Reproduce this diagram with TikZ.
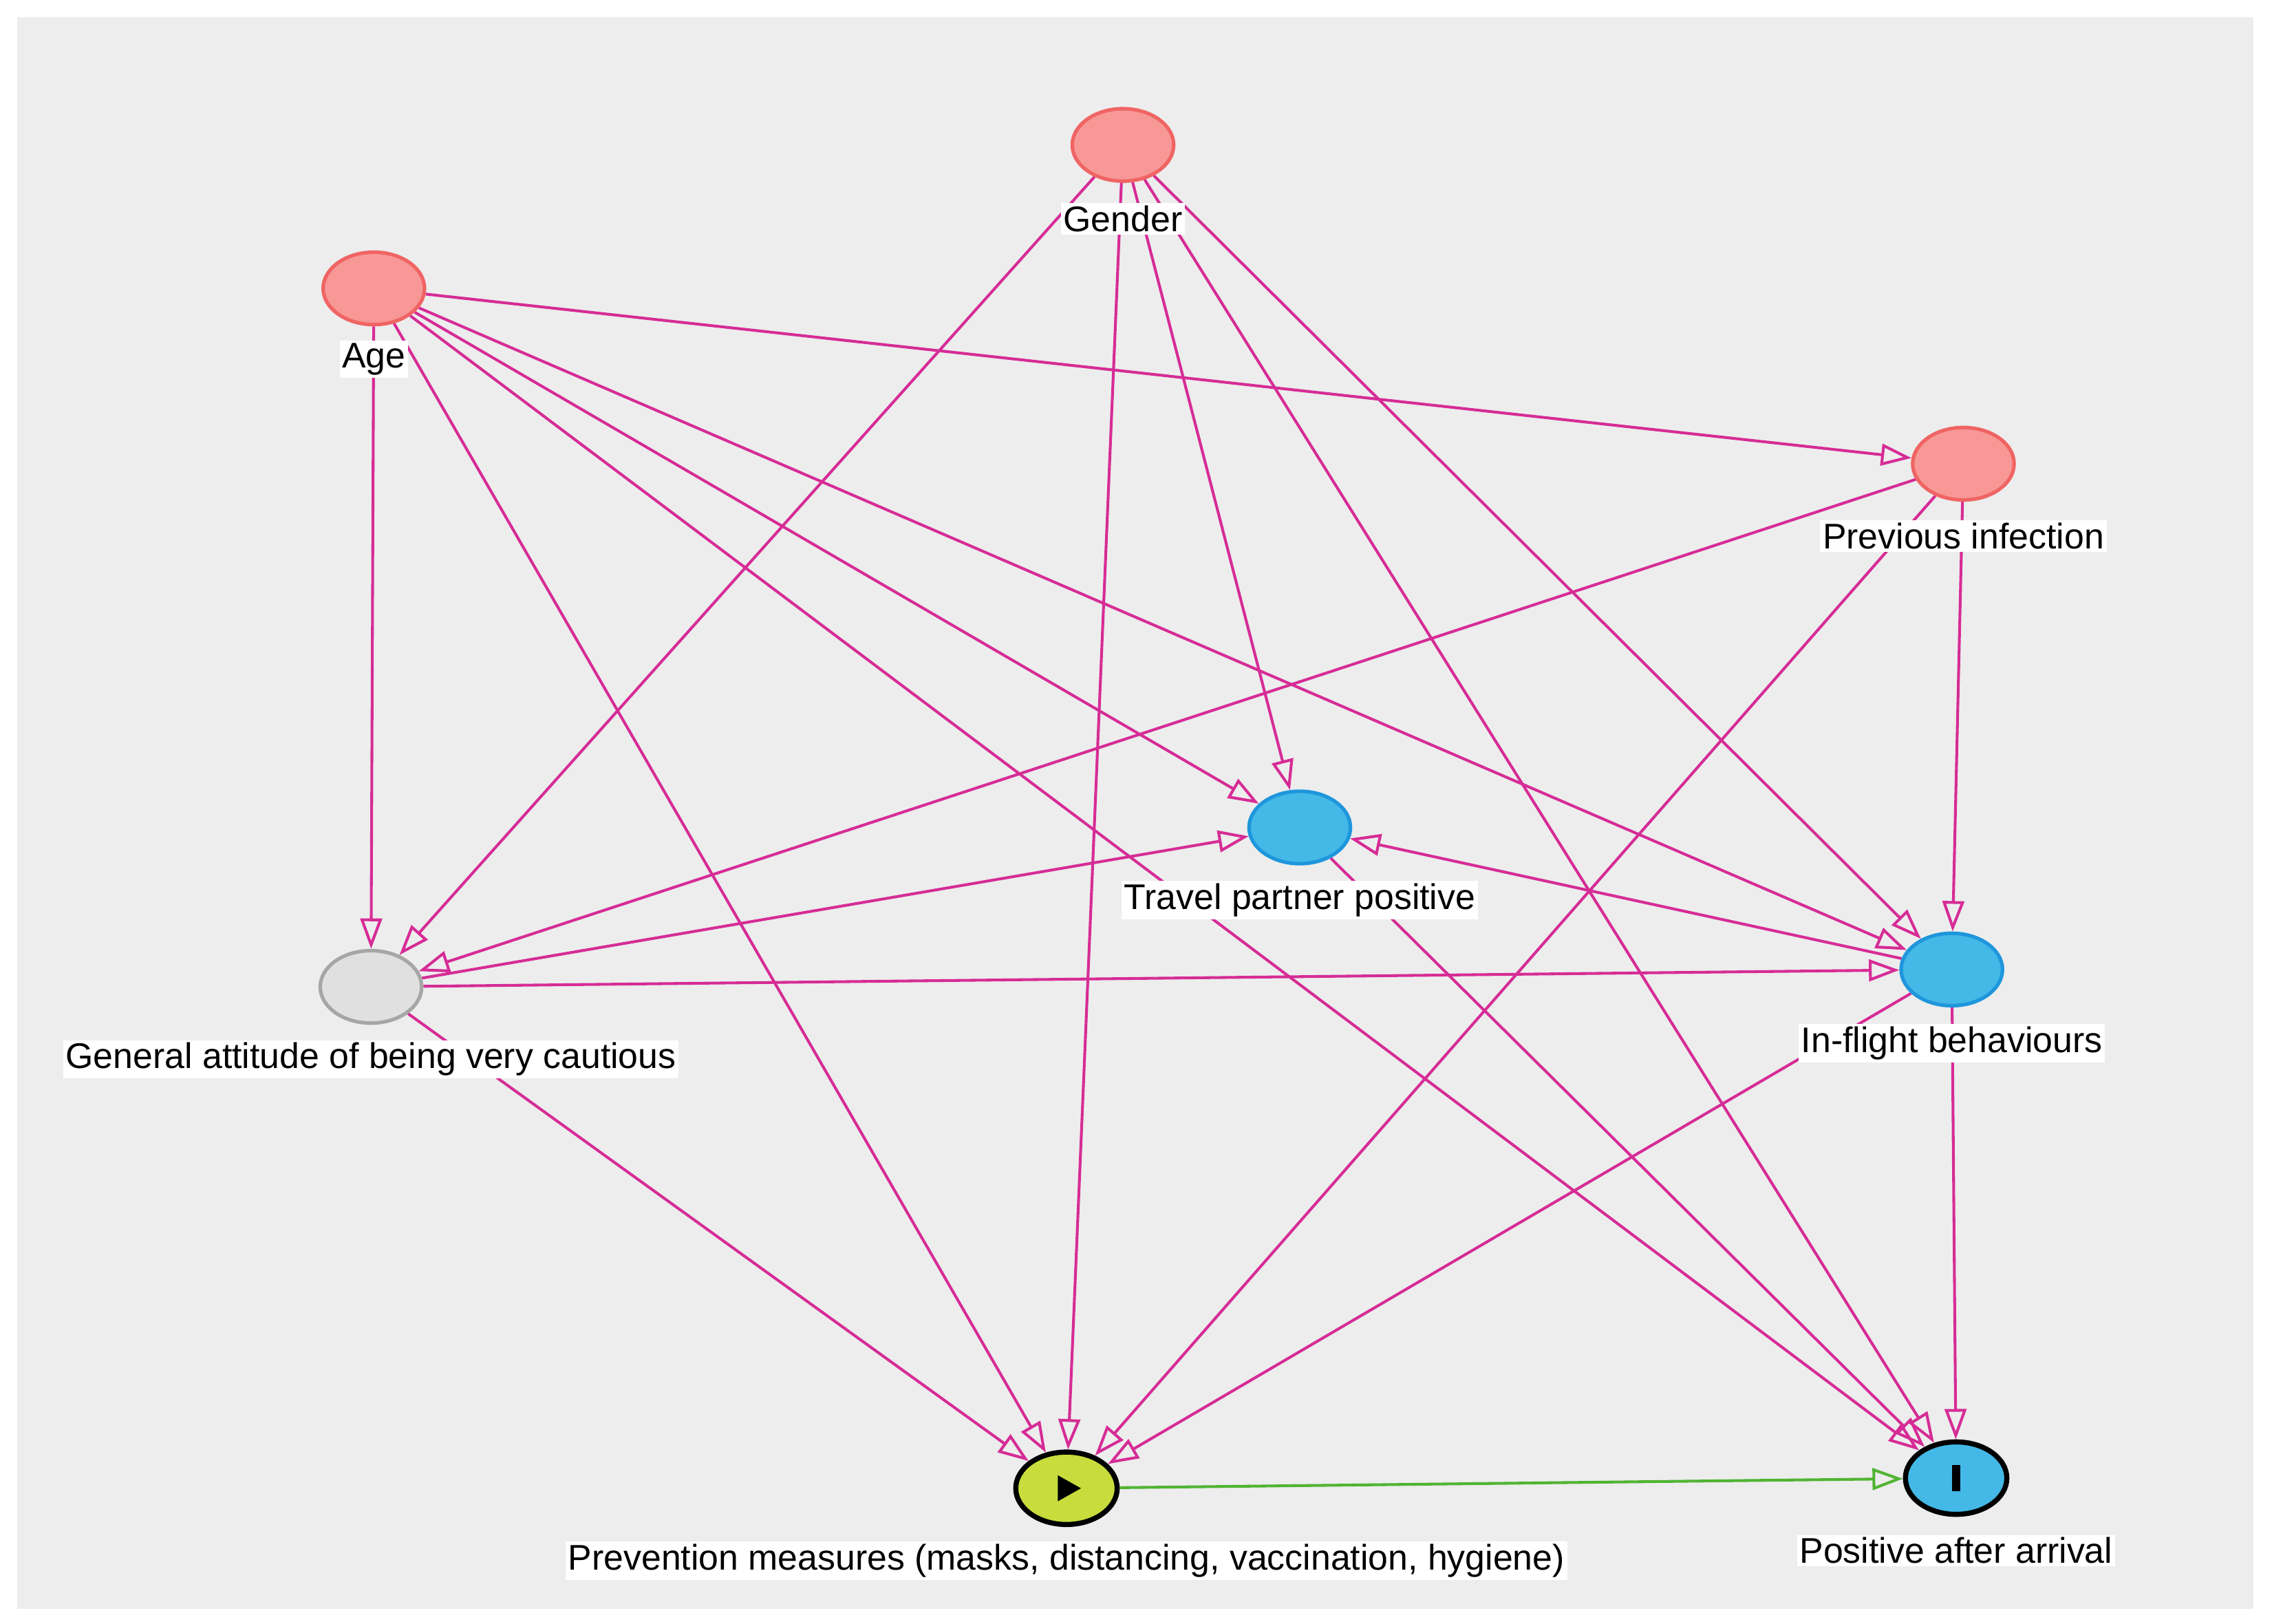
\documentclass[tikz,border=0pt]{standalone}
\usepackage{fontspec}
\setmainfont{Liberation Sans}
\usetikzlibrary{arrows.meta,shapes.geometric}
\pgfdeclarelayer{bg}\pgfdeclarelayer{edges}
\pgfsetlayers{bg,edges,main}
\definecolor{edge}{RGB}{214,44,150}
\definecolor{pinkn}{RGB}{247,152,150}
\definecolor{pinkb}{RGB}{240,100,100}
\definecolor{bluen}{RGB}{68,184,230}
\definecolor{blueb}{RGB}{30,150,220}
\definecolor{greyn}{RGB}{224,224,224}
\definecolor{yel}{RGB}{200,220,60}
\definecolor{grn}{RGB}{80,180,50}
\begin{document}
\begin{tikzpicture}[x=0.02cm,y=-0.02cm,
 nd/.style={ellipse,minimum width=1.4cm,minimum height=1.0cm,line width=1.4pt,inner sep=0pt},
 pk/.style={nd,fill=pinkn,draw=pinkb},
 bl/.style={nd,fill=bluen,draw=blueb},
 lab/.style={fill=white,inner sep=1pt,font=\fontsize{14}{16}\selectfont},
 e/.style={draw=edge,line width=1.1pt,-{Triangle[open,length=0.42cm,width=0.3cm]}}]
\useasboundingbox (0,0) rectangle (1568,1120.6);
\begin{pgfonlayer}{bg}
\fill[white] (0,0) rectangle (1568,1120.6);
\fill[black!7] (12,12) rectangle (1555,1110);
\end{pgfonlayer}
\node[pk] (g) at (775,100) {};
\node[pk] (a) at (258,199) {};
\node[pk] (p) at (1355,320) {};
\node[bl] (t) at (897,571) {};
\node[nd,fill=greyn,draw=black!35] (c) at (256,681) {};
\node[bl] (f) at (1347,669) {};
\node[nd,fill=yel,draw=black,line width=2pt] (m) at (736,1027) {};
\node[nd,fill=bluen,draw=black,line width=2pt] (r) at (1350,1020) {};
\fill[black] (730,1018) -- (746,1027) -- (730,1036) -- cycle;
\fill[black] (1347,1011) rectangle (1353,1029);
\node[lab] (gl) at (775,151) {Gender};
\node[lab] (al) at (258,248) {Age};
\node[lab] (pl) at (1355,370) {Previous infection};
\node[lab] (tl) at (897,621) {Travel partner positive};
\node[lab] (cl) at (256,731) {General attitude of being very cautious};
\node[lab] (fl) at (1347,720) {In-flight behaviours};
\node[lab] (ml) at (736,1077) {Prevention measures (masks, distancing, vaccination, hygiene)};
\node[lab] (rl) at (1350,1070) {Positive after arrival};
\begin{pgfonlayer}{edges}
\foreach \s/\d in {g/c,g/m,g/t,g/r,g/f,a/p,a/c,a/m,a/t,a/f,a/r,p/c,p/m,p/f,t/r,f/t,c/t,c/f,c/m,f/m,f/r}
  \draw[e] (\s) -- (\d);
\draw[e,draw=grn] (m) -- (r);
\end{pgfonlayer}
\end{tikzpicture}
\end{document}
